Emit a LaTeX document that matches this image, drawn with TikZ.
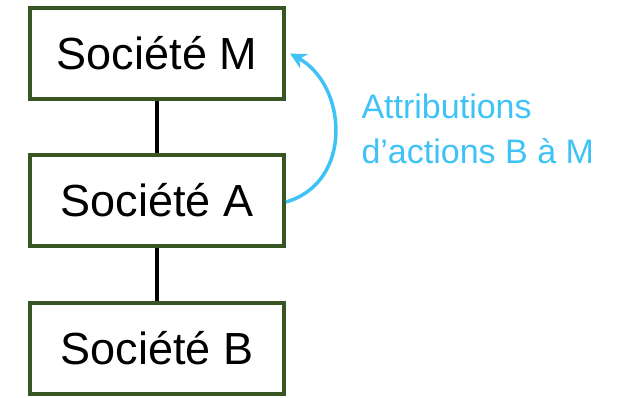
\documentclass[tikz,border=0pt]{standalone}
\usepackage{fontspec}
\setmainfont{Liberation Sans}
\usetikzlibrary{arrows.meta,positioning}

\definecolor{boxgreen}{HTML}{375623}
\definecolor{skyblue}{HTML}{3FC3F7}

\tikzset{
  company/.style={draw=boxgreen, line width=4pt, minimum width=254pt, minimum height=91pt,
    inner sep=0pt, font=\fontsize{45}{54}\selectfont},
  holds/.style={line width=3.5pt, black},
  transfer/.style={line width=3.5pt, skyblue, -{Stealth[length=16pt,width=16pt]}}
}

\begin{document}
\begin{tikzpicture}[x=1pt,y=-1pt]
  \useasboundingbox (0,0) rectangle (623,397);

  % the three companies, one under the other
  \node[company] (m) at (157,53.5) {Société M};
  \node[company] (a) at (157,200) {Société A};
  \node[company] (b) at (157,348) {Société B};

  % ownership links
  \draw[holds] (m.south) -- (a.north);
  \draw[holds] (a.south) -- (b.north);

  % share transfer from A up to M
  \coordinate (mtip) at ([xshift=4pt]m.east);
  \draw[transfer] ([yshift=-2pt]a.east) .. controls (354,182) and (347,85) .. (mtip);

  \node[anchor=west, align=left, text=skyblue, font=\fontsize{34}{45}\selectfont] (lbl) at (358,129)
    {Attributions\\d’actions B à M};
\end{tikzpicture}
\end{document}
